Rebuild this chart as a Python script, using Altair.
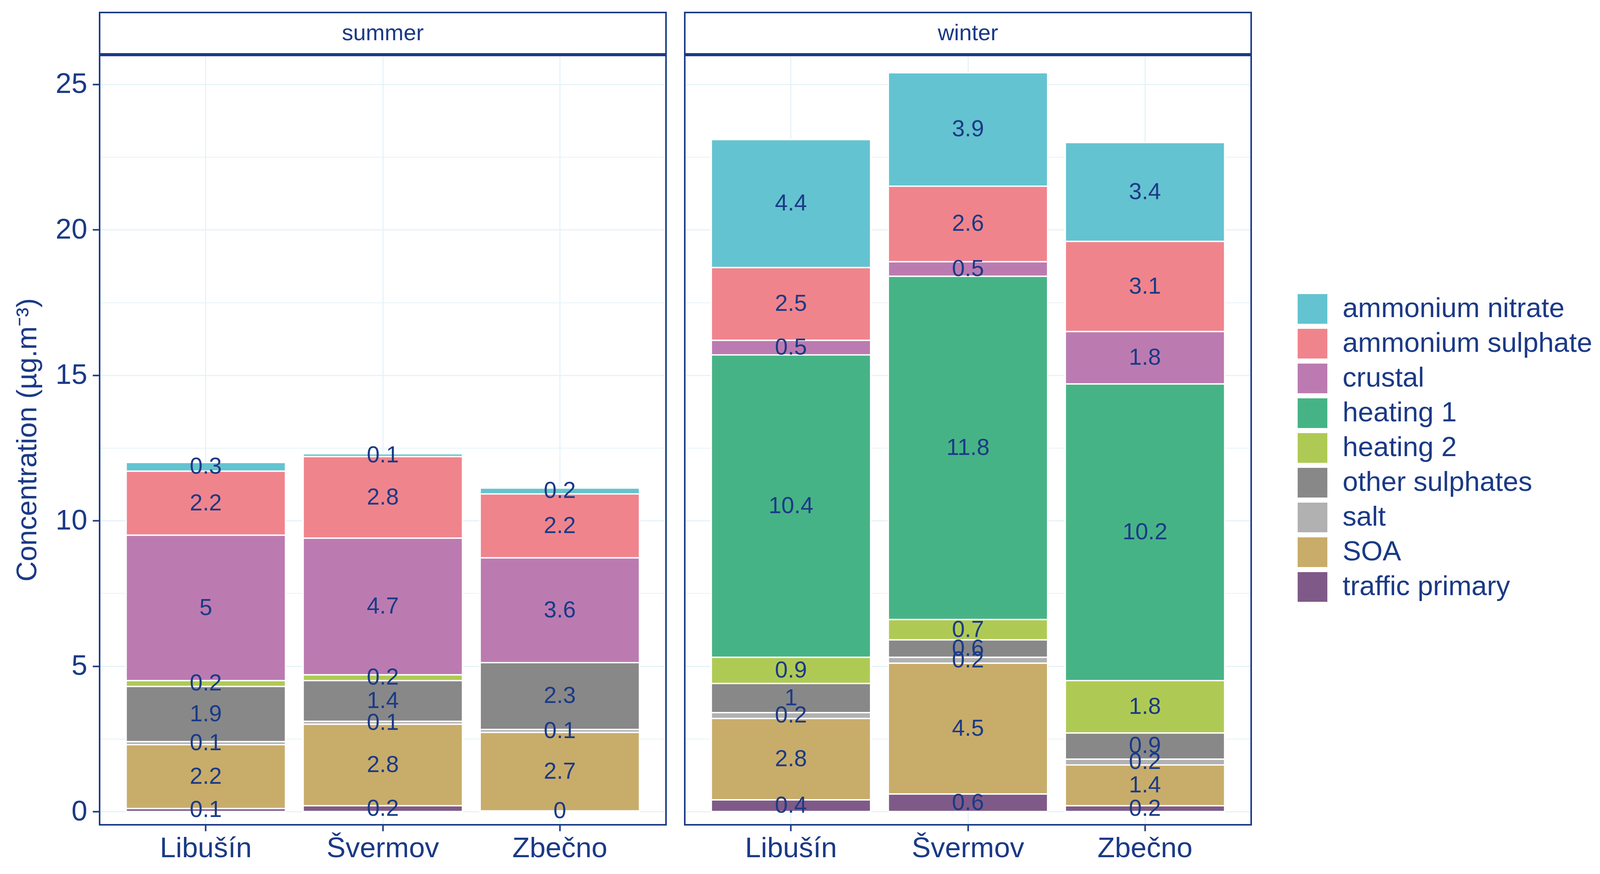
import altair as alt
import pandas as pd

# ---- data ----
sources = ["ammonium nitrate", "ammonium sulphate", "crustal", "heating 1",
           "heating 2", "other sulphates", "salt", "SOA", "traffic primary"]
colors = ["#64C3D0", "#F0848C", "#BB7BB1", "#46B386", "#AFCA54",
          "#888888", "#B1B1B1", "#C8AC6A", "#7F5A88"]
sites = ["Libušín", "Švermov", "Zbečno"]
seasons = ["summer", "winter"]

# values in the order of `sources`; None = source absent
summer_libusin = [0.3, 2.2, 5.0, None, 0.2, 1.9, 0.1, 2.2, 0.1]
summer_svermov = [0.1, 2.8, 4.7, None, 0.2, 1.4, 0.1, 2.8, 0.2]
summer_zbecno = [0.2, 2.2, 3.6, None, None, 2.3, 0.1, 2.7, 0.02]
winter_libusin = [4.4, 2.5, 0.5, 10.4, 0.9, 1.0, 0.2, 2.8, 0.4]
winter_svermov = [3.9, 2.6, 0.5, 11.8, 0.7, 0.6, 0.2, 4.5, 0.6]
winter_zbecno = [3.4, 3.1, 1.8, 10.2, 1.8, 0.9, 0.2, 1.4, 0.2]

y_ticks = [0, 2.5, 5, 7.5, 10, 12.5, 15, 17.5, 20, 22.5, 25]

table = {
    "summer": [summer_libusin, summer_svermov, summer_zbecno],
    "winter": [winter_libusin, winter_svermov, winter_zbecno],
}
rows = []
for season in seasons:
    for site, vals in zip(sites, table[season]):
        for i, (src, v) in enumerate(zip(sources, vals)):
            if v is None:
                continue
            rows.append(dict(season=season, site=site, source=src, ord=i,
                             value=v, label=f"{round(v, 1):g}"))
df = pd.DataFrame(rows)

# ---- styling ----
NAVY = "#1B3A86"
GRID = "#E6F3F8"
FONT = "Liberation Sans"
W, H = 1450, 1972
STRIP = 108

yscale = alt.Scale(domain=[-0.456, 26.02], nice=False, zero=False)
xscale = alt.Scale(domain=sites, paddingInner=0.1, paddingOuter=0.15)
cscale = alt.Scale(domain=sources, range=colors)

minor_test = "datum.value % 5 !== 0"


def panel(season, first):
    d = df[df.season == season]
    base = alt.Chart(d).transform_stack(
        stack="value", groupby=["site"], as_=["y0", "y1"],
        sort=[alt.SortField("ord", order="descending")]
    ).transform_calculate(mid="(datum.y0 + datum.y1) / 2")

    xaxis = alt.Axis(title=None, labelAngle=0, labelFontSize=73, labelColor=NAVY,
                     labelFont=FONT, labelLimit=1000, tickColor=NAVY, tickSize=16,
                     tickWidth=4, labelPadding=8, domain=False, grid=True,
                     gridColor=GRID, gridWidth=3, bandPosition=0.5)
    common = dict(values=y_ticks, grid=True, domain=False,
                  gridColor=GRID,
                  gridWidth={"condition": {"test": minor_test, "value": 2}, "value": 3})
    if first:
        yaxis = alt.Axis(title="Concentration (µg.m⁻³)", titleFontSize=72,
                         titleFont=FONT, titleFontWeight="normal", titleColor=NAVY,
                         titlePadding=34,
                         labelExpr=f"{minor_test} ? '' : format(datum.value, 'd')",
                         labelFontSize=73, labelFont=FONT, labelColor=NAVY,
                         labelPadding=14, tickColor=NAVY, tickSize=18, tickWidth=4,
                         tickOpacity={"condition": {"test": minor_test, "value": 0}, "value": 1},
                         **common)
    else:
        yaxis = alt.Axis(title=None, labels=False, ticks=False, **common)

    bars = base.mark_bar(stroke="white", strokeWidth=3.5).encode(
        x=alt.X("site:N", scale=xscale, axis=xaxis, sort=sites),
        y=alt.Y("y0:Q", scale=yscale, axis=yaxis),
        y2="y1:Q",
        color=alt.Color("source:N", scale=cscale, sort=sources,
                        legend=alt.Legend(title=None, orient="none",
                                          legendX=3067, legendY=613,
                                          symbolType="square", symbolSize=5776,
                                          symbolStrokeWidth=0, labelFontSize=71,
                                          labelFont=FONT, labelColor=NAVY,
                                          labelOffset=39, rowPadding=13,
                                          padding=0, labelLimit=1200)),
    )
    text = base.mark_text(fontSize=59, font=FONT, color=NAVY,
                          align="center", baseline="middle").encode(
        x=alt.X("site:N", scale=xscale, sort=sites),
        y=alt.Y("mid:Q", scale=yscale),
        text="label:N",
    )
    sd = pd.DataFrame({"season": [season]})
    border = alt.Chart(sd).mark_rect(fillOpacity=0, stroke=NAVY, strokeWidth=4).encode(
        x=alt.value(0), x2=alt.value(W), y=alt.value(0), y2=alt.value(H))
    strip_rect = alt.Chart(sd).mark_rect(fill="white", stroke=NAVY, strokeWidth=4).encode(
        x=alt.value(0), x2=alt.value(W), y=alt.value(-STRIP), y2=alt.value(0))
    strip_line = alt.Chart(sd).mark_rule(color=NAVY, strokeWidth=8).encode(
        x=alt.value(0), x2=alt.value(W), y=alt.value(0))
    strip_text = alt.Chart(sd).mark_text(fontSize=58, font=FONT, color=NAVY,
                                         align="center", baseline="middle").encode(
        x=alt.value(W / 2), y=alt.value(-STRIP / 2), text="season:N")
    return alt.layer(bars, text, border, strip_rect, strip_line, strip_text).properties(
        width=W, height=H)


chart = alt.hconcat(panel("summer", True), panel("winter", False), spacing=38).properties(
    padding={"left": 26, "top": 21, "right": 0, "bottom": 0}
).configure_view(stroke=NAVY, strokeWidth=4).configure(font=FONT, background="white")

chart.save("out.html", embed_options={"renderer": "svg", "actions": False})
